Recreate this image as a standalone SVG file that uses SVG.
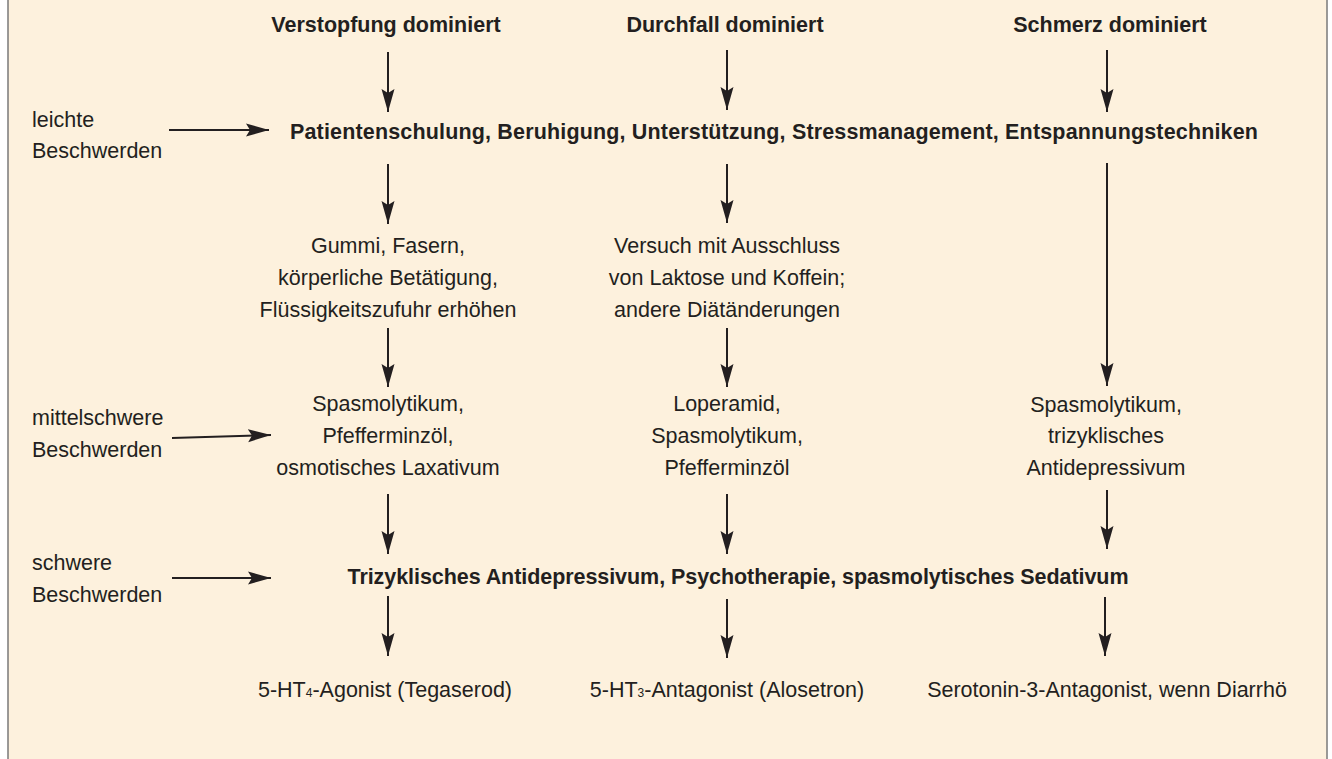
<svg xmlns="http://www.w3.org/2000/svg" width="1332" height="759" viewBox="0 0 1332 759">
<style>
text{font-family:"Liberation Sans",Arial,sans-serif;font-size:21.5px;fill:#231f20}
.b{font-weight:bold}
.c{text-anchor:middle}
.conn line{stroke:#231f20;stroke-width:2;marker-end:url(#ah)}
</style>
<defs>
<marker id="ah" markerUnits="userSpaceOnUse" markerWidth="24" markerHeight="14" viewBox="0 0 24 14" refX="23" refY="7" orient="auto">
<path d="M0,0.5 L23,7 L0,13.5 L4,7 Z" fill="#231f20"/>
</marker>
</defs>
<rect x="8" y="-2" width="1319" height="763" fill="#fdf1dd" stroke="#7a7a7a" stroke-width="1.5"/>
<g id="h1"><text class="b c" x="386" y="32">Verstopfung dominiert</text></g>
<g id="h2"><text class="b c" x="725" y="32">Durchfall dominiert</text></g>
<g id="h3"><text class="b c" x="1110" y="32">Schmerz dominiert</text></g>
<g id="l1"><text x="32" y="127">leichte</text><text x="32" y="158">Beschwerden</text></g>
<g id="l2"><text x="32" y="425">mittelschwere</text><text x="32" y="457">Beschwerden</text></g>
<g id="l3"><text x="32" y="570">schwere</text><text x="32" y="602">Beschwerden</text></g>
<g id="n1"><text class="b c" x="774" y="139" textLength="968">Patientenschulung, Beruhigung, Unterstützung, Stressmanagement, Entspannungstechniken</text></g>
<g id="n2"><text class="c" x="388" y="253">Gummi, Fasern,</text><text class="c" x="388" y="285">körperliche Betätigung,</text><text class="c" x="388" y="317">Flüssigkeitszufuhr erhöhen</text></g>
<g id="n3"><text class="c" x="727" y="253">Versuch mit Ausschluss</text><text class="c" x="727" y="285">von Laktose und Koffein;</text><text class="c" x="727" y="317">andere Diätänderungen</text></g>
<g id="n4"><text class="c" x="388" y="411">Spasmolytikum,</text><text class="c" x="388" y="443">Pfefferminzöl,</text><text class="c" x="388" y="475">osmotisches Laxativum</text></g>
<g id="n5"><text class="c" x="727" y="411">Loperamid,</text><text class="c" x="727" y="443">Spasmolytikum,</text><text class="c" x="727" y="475">Pfefferminzöl</text></g>
<g id="n6"><text class="c" x="1106" y="412">Spasmolytikum,</text><text class="c" x="1106" y="443">trizyklisches</text><text class="c" x="1106" y="475">Antidepressivum</text></g>
<g id="n7"><text class="b c" x="738" y="584" textLength="781">Trizyklisches Antidepressivum, Psychotherapie, spasmolytisches Sedativum</text></g>
<g id="n8"><text class="c" x="385" y="697">5-HT<tspan font-size="12">4</tspan>-Agonist (Tegaserod)</text></g>
<g id="n9"><text class="c" x="727" y="697">5-HT<tspan font-size="12">3</tspan>-Antagonist (Alosetron)</text></g>
<g id="n10"><text class="c" x="1107" y="697">Serotonin-3-Antagonist, wenn Diarrhö</text></g>
<g id="connectors" class="conn">
<line x1="388" y1="52" x2="388" y2="112"/>
<line x1="727" y1="50" x2="727" y2="110"/>
<line x1="1107" y1="50" x2="1107" y2="112"/>
<line x1="169" y1="130" x2="269" y2="130"/>
<line x1="388" y1="164" x2="388" y2="224"/>
<line x1="727" y1="164" x2="727" y2="223"/>
<line x1="1107" y1="163" x2="1107" y2="386"/>
<line x1="388" y1="328" x2="388" y2="387"/>
<line x1="727" y1="328" x2="727" y2="387"/>
<line x1="172" y1="438" x2="271" y2="435"/>
<line x1="388" y1="494" x2="388" y2="554"/>
<line x1="727" y1="494" x2="727" y2="554"/>
<line x1="1107" y1="490" x2="1107" y2="549"/>
<line x1="172" y1="578" x2="271" y2="578"/>
<line x1="388" y1="596" x2="388" y2="656"/>
<line x1="727" y1="599" x2="727" y2="658"/>
<line x1="1105" y1="597" x2="1105" y2="656"/>
</g>
</svg>
